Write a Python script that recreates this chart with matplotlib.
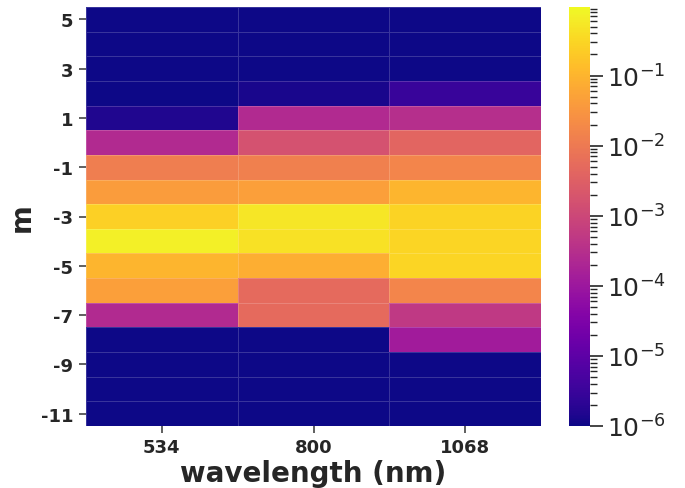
import numpy as np
import matplotlib
matplotlib.use("Agg")
import matplotlib.pyplot as plt
from matplotlib.colors import LogNorm

wavelengths = ["534", "800", "1068"]
orders = [5, 4, 3, 2, 1, 0, -1, -2, -3, -4, -5, -6, -7, -8, -9, -10, -11]

eff_534 = [1e-6, 1e-6, 1e-6, 1e-6, 1.5e-6, 2.5e-4, 1.2e-2, 4.0e-2, 0.25, 0.72, 0.10, 4.5e-2, 2.5e-4, 1e-6, 1e-6, 1e-6, 1e-6]
eff_800 = [1e-6, 1e-6, 1e-6, 1.3e-6, 2.5e-4, 1.6e-3, 1.3e-2, 4.5e-2, 0.50, 0.44, 0.08, 5.0e-3, 5.0e-3, 1e-6, 1e-6, 1e-6, 1e-6]
eff_1068 = [1e-6, 1e-6, 1e-6, 3e-6, 3.0e-4, 4.0e-3, 1.6e-2, 0.10, 0.28, 0.30, 0.30, 1.6e-2, 5.0e-4, 1.2e-4, 1e-6, 1e-6, 1e-6]

data = np.array([eff_534, eff_800, eff_1068]).T

txt = "#262626"
plt.rcParams["font.family"] = ["DejaVu Sans"]
fig = plt.figure(figsize=(6.85, 4.89), dpi=100)
ax = fig.add_axes([86/685, 1-427/489, (541-86)/685, (427-8)/489])
cax = fig.add_axes([569/685, 1-427/489, (590-569)/685, (427-8)/489])

norm = LogNorm(vmin=1e-6, vmax=0.95)
mesh = ax.pcolormesh(np.arange(len(wavelengths)+1), np.arange(len(orders)+1), data,
                     cmap="plasma", norm=norm, edgecolors=(1, 1, 1, 0.18), linewidth=0.6)
ax.set_xlim(0, len(wavelengths))
ax.set_ylim(len(orders), 0)
for s in ax.spines.values():
    s.set_visible(False)

ax.set_xticks(np.arange(len(wavelengths)) + 0.5)
ax.set_xticklabels(wavelengths, fontsize=13, fontweight="bold", color=txt)
yt = [i for i, m in enumerate(orders) if m % 2 != 0]
ax.set_yticks(np.array(yt) + 0.5)
ax.set_yticklabels([str(orders[i]) for i in yt], fontsize=13, fontweight="bold", color=txt)
ax.tick_params(axis="both", length=5, width=1.2, color="#444444", pad=4)
ax.set_xlabel("wavelength (nm)", fontsize=20, fontweight="bold", color=txt, labelpad=2)
ax.set_ylabel("m", fontsize=20, fontweight="bold", color=txt, labelpad=4)

cb = fig.colorbar(mesh, cax=cax)
cb.outline.set_visible(False)
cb.set_ticks([1e-6, 1e-5, 1e-4, 1e-3, 1e-2, 1e-1])
cb.ax.tick_params(which="major", labelsize=18, length=9, width=1.2, color="#262626", labelcolor=txt, pad=3)
cb.ax.tick_params(which="minor", length=5, width=1.0, color="#262626")

fig.savefig("out.png", dpi=100)
